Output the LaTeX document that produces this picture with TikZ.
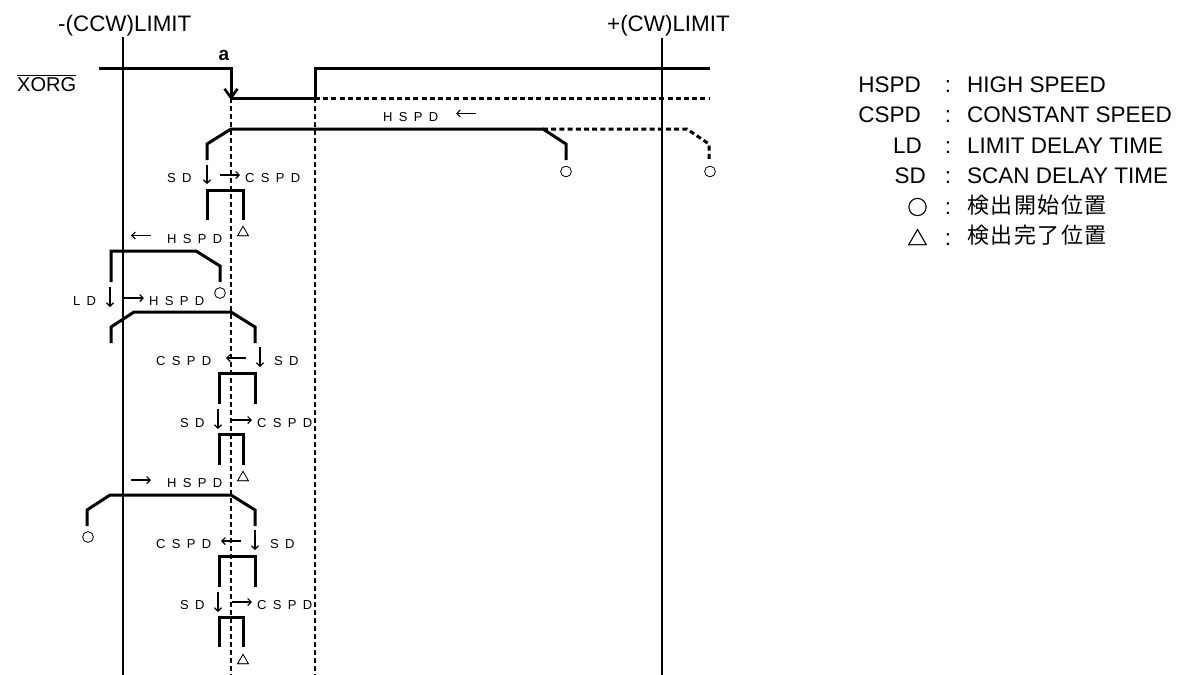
\documentclass[tikz,border=0pt]{standalone}
\usepackage{fontspec}
\usetikzlibrary{arrows.meta}
\setmainfont{Liberation Sans}
\newfontfamily\smallf[WordSpace=1.75]{Liberation Sans}
\newfontfamily\cjk[LetterSpace=7]{Noto Sans CJK JP}
\newfontfamily\cjksym[FakeBold=1.2]{Noto Sans CJK JP}
\tikzset{
  limitline/.style={line width=1.6pt,black},
  guide/.style={line width=1.6pt,black,dash pattern=on 5pt off 3pt},
  wave/.style={line width=3pt,black,line join=miter},
  wavedash/.style={line width=3pt,black,dash pattern=on 5pt off 3.2pt},
  thin arrow/.style={line width=1.2pt,black,-{Straight Barb[length=3.5pt,width=7pt,line width=1.1pt]}},
  big arrow/.style={line width=3pt,black,-{Straight Barb[length=9pt,width=13pt,line width=2.6pt]}},
  head/.style={inner sep=0,anchor=base west,font=\fontsize{22.4}{24}\selectfont},
  tag/.style={inner sep=0,font=\smallf\fontsize{13}{15}\selectfont},
  legl/.style={inner sep=0,anchor=base east,font=\fontsize{22.5}{24}\selectfont},
  legc/.style={inner sep=0,anchor=base,font=\fontsize{22.5}{24}\selectfont},
  legr/.style={inner sep=0,anchor=base west,font=\fontsize{22.5}{24}\selectfont},
  legj/.style={inner sep=0,anchor=base west,font=\cjk\fontsize{22}{24}\selectfont},
  startmark/.style={inner sep=0,font=\cjksym\fontsize{12.5}{14}\selectfont},
  legmark/.style={inner sep=0,font=\cjksym\fontsize{20}{22}\selectfont},
}
\begin{document}
\begin{tikzpicture}[x=1pt,y=-1pt]
\useasboundingbox (0,0) rectangle (1184,675);
% limits and guides
\coordinate (ll1) at (122.7,37); \coordinate (ll2) at (122.7,675);
\coordinate (rl1) at (661.7,38); \coordinate (rl2) at (661.7,675);
\coordinate (g11) at (231,98); \coordinate (g12) at (231,675);
\coordinate (g21) at (315,98); \coordinate (g22) at (315,675);
\draw[limitline] (ll1) -- (ll2);
\draw[limitline] (rl1) -- (rl2);
\draw[guide] (g11) -- (g12);
\draw[guide] (g21) -- (g22);
% headings
\node[head] (hl) at (58,31) {-(CCW)LIMIT};
\node[head] (hr) at (607,31) {+(CW)LIMIT};
\node[inner sep=0,font=\bfseries\fontsize{19}{20}\selectfont] (lbla) at (224,55) {a};
\node[inner sep=0,anchor=base west,font=\fontsize{20}{22}\selectfont] (xorg) at (17,91) {$\overline{\mbox{XORG}}$};
% XORG wave
\draw[wave] (99,68) -- (231,68) -- (231,98) -- (315,98) -- (315,68) -- (710,68);
\draw[wavedash] (315,98) -- (710,98);
\draw[big arrow] (231,72) -- (231,100);
% profile 1
\draw[wave] (207,160) -- (207,144) -- (231,129) -- (543,129) -- (566,144) -- (566,160);
\draw[wavedash] (543,129) -- (687,129) -- (709,144) -- (709,160);
\node[startmark] (c1) at (566,171.5) {○};
\node[startmark] (c2) at (710,171.5) {○};
\node[tag,anchor=west] (t1) at (167,178) {S D};
\draw[thin arrow] (207,165) -- (207,184);
\draw[thin arrow] (220,175) -- (240,175);
\node[tag,anchor=west] (t2) at (245,178) {C S P D};
\node[tag,anchor=west] (t3) at (383,117) {H S P D};
\draw[thin arrow] (476,113.5) -- (456,113.5);
% bracket 1
\draw[wave] (207,220) -- (207,190) -- (243,190) -- (243,220);
\node[startmark] (d1) at (243,231) {△};
% row
\draw[thin arrow] (151,235.5) -- (131,235.5);
\node[tag,anchor=west] (t4) at (167,239) {H S P D};
\draw[wave] (111,282) -- (111,251) -- (196,251) -- (220,266) -- (220,282);
\node[startmark] (c3) at (220,293) {○};
\node[tag,anchor=west] (t5) at (73,301) {L D};
\draw[thin arrow] (110,287) -- (110,307);
\draw[thin arrow] (124,298) -- (144,298);
\node[tag,anchor=west] (t6) at (149,301) {H S P D};
\draw[wave] (111,343) -- (111,327) -- (134,312) -- (231,312) -- (255,327) -- (255,343);
\node[tag,anchor=west] (t7) at (156,361) {C S P D};
\draw[thin arrow] (246,358) -- (226,358);
\draw[thin arrow] (260,347) -- (260,367);
\node[tag,anchor=west] (t8) at (274,361) {S D};
\draw[wave] (219,404) -- (219,373) -- (255,373) -- (255,404);
\node[tag,anchor=west] (t9) at (180,423) {S D};
\draw[thin arrow] (218,409) -- (218,429);
\draw[thin arrow] (232,420) -- (252,420);
\node[tag,anchor=west] (t10) at (257,423) {C S P D};
\draw[wave] (219,465) -- (219,434) -- (243,434) -- (243,465);
\node[startmark] (d2) at (243,476) {△};
\draw[thin arrow] (131,480) -- (151,480);
\node[tag,anchor=west] (t11) at (167,483) {H S P D};
\draw[wave] (87,526) -- (87,510) -- (110,495) -- (231,495) -- (255,510) -- (255,526);
\node[startmark] (c4) at (88,537) {○};
\node[tag,anchor=west] (t12) at (156,544) {C S P D};
\draw[thin arrow] (241,541) -- (221,541);
\draw[thin arrow] (255,530) -- (255,550);
\node[tag,anchor=west] (t13) at (270,544) {S D};
\draw[wave] (219,587) -- (219,556) -- (255,556) -- (255,587);
\node[tag,anchor=west] (t14) at (180,605) {S D};
\draw[thin arrow] (218,592) -- (218,612);
\draw[thin arrow] (232,602) -- (252,602);
\node[tag,anchor=west] (t15) at (257,605) {C S P D};
\draw[wave] (219,647) -- (219,617) -- (243,617) -- (243,647);
\node[startmark] (d3) at (243,659) {△};
% legend
\node[legl] (l1) at (921,92) {HSPD};
\node[legc] (m1) at (948,92) {:};
\node[legr] (r1) at (967,92) {HIGH SPEED};
\node[legl] (l2) at (921,122) {CSPD};
\node[legc] (m2) at (948,122) {:};
\node[legr] (r2) at (967,122) {CONSTANT SPEED};
\node[legl] (l3) at (922,153) {LD};
\node[legc] (m3) at (948,153) {:};
\node[legr] (r3) at (967,153) {LIMIT DELAY TIME};
\node[legl] (l4) at (926,183) {SD};
\node[legc] (m4) at (948,183) {:};
\node[legr] (r4) at (967,183) {SCAN DELAY TIME};
\node[legmark] (l5) at (917.5,207) {○};
\node[legc] (m5) at (948,214) {:};
\node[legj] (r5) at (967,213.5) {検出開始位置};
\node[legmark] (l6) at (917.5,237) {△};
\node[legc] (m6) at (948,245) {:};
\node[legj] (r6) at (967,243.5) {検出完了位置};
\end{tikzpicture}
\end{document}
